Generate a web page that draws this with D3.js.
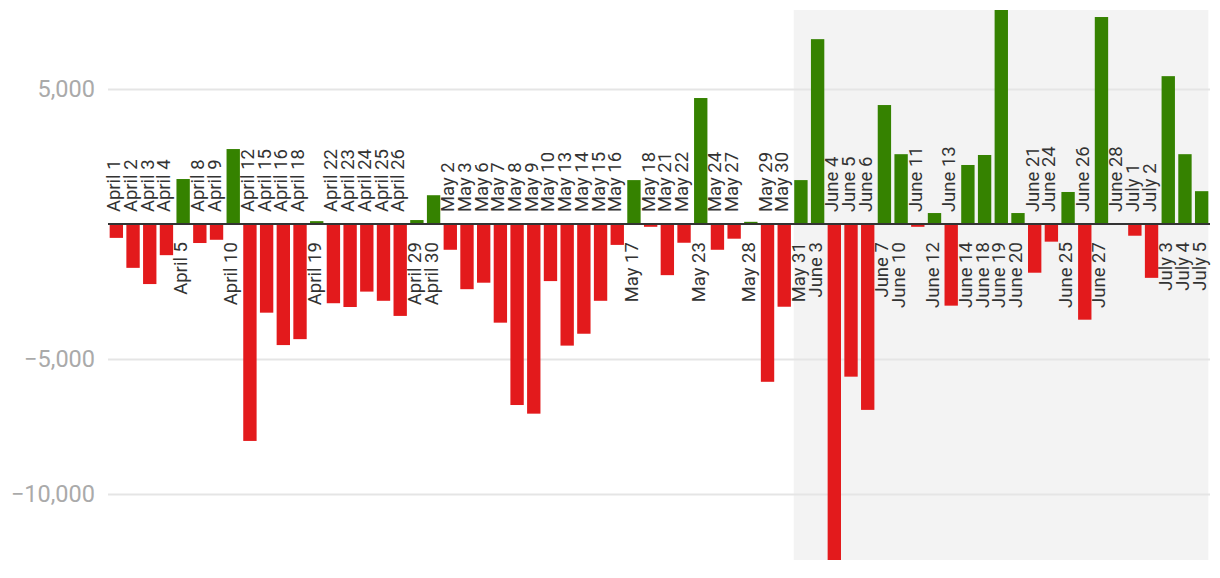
<!DOCTYPE html>
<html>
<head>
<meta charset="utf-8">
<script src="https://cdn.jsdelivr.net/npm/d3@7"></script>
<style>
  body { margin: 0; background: #fff; }
  svg { display: block; font-family: Roboto, "Noto Sans", sans-serif; }
</style>
</head>
<body>
<script>
// daily net change
var dates = ["April 1","April 2","April 3","April 4","April 5","April 8","April 9","April 10",
  "April 12","April 15","April 16","April 18","April 19","April 22","April 23","April 24",
  "April 25","April 26","April 29","April 30",
  "May 2","May 3","May 6","May 7","May 8","May 9","May 10","May 13","May 14","May 15",
  "May 16","May 17","May 18","May 21","May 22","May 23","May 24","May 27","May 28",
  "May 29","May 30","May 31",
  "June 3","June 4","June 5","June 6","June 7","June 10","June 11","June 12","June 13",
  "June 14","June 18","June 19","June 20","June 21","June 24","June 25","June 26",
  "June 27","June 28",
  "July 1","July 2","July 3","July 4","July 5"];

var values = [-510,-1620,-2220,-1150,1670,-700,-580,2780,
  -8030,-3280,-4480,-4260,110,-2930,-3070,-2500,
  -2840,-3400,150,1070,
  -950,-2410,-2170,-3650,-6700,-7020,-2110,-4500,-4060,-2840,
  -770,1630,-100,-1890,-690,4670,-950,-540,85,
  -5840,-3060,1630,
  6850,-12440,-5650,-6880,4410,2590,-100,410,-3020,
  2190,2560,7930,410,-1800,-650,1190,-3540,
  7670,-10,
  -430,-1990,5480,2590,1220];

var yTicks = [-10000, -5000, 5000];
var shadeFrom = "May 31", shadeTo = "July 5";

var width = 1220, height = 578;
var mLeft = 108, mRight = 1210, mTop = 10, mBottom = 560;

var svg = d3.select("body").append("svg")
    .attr("width", width)
    .attr("height", height);

var x = d3.scaleBand()
    .domain(dates)
    .range([mLeft, mRight])
    .paddingInner(0.2)
    .paddingOuter(0.1);

var y = d3.scaleLinear()
    .domain(d3.extent(values))
    .range([mBottom, mTop]);

// grey shaded period
svg.append("rect")
    .attr("x", x(shadeFrom) - 0.5)
    .attr("y", mTop)
    .attr("width", x(shadeTo) + x.bandwidth() - x(shadeFrom) + 0.5)
    .attr("height", mBottom - mTop)
    .attr("fill", "#f3f3f3");

// gridlines + tick labels
var yAxis = d3.axisLeft(y)
    .tickValues(yTicks)
    .tickFormat(d3.format(","))
    .tickSize(-(mRight - mLeft))
    .tickPadding(13);

svg.append("g")
    .attr("transform", "translate(" + mLeft + ",0)")
    .call(yAxis)
    .call(g => g.select(".domain").remove())
    .call(g => g.selectAll(".tick line").attr("stroke", "#e5e5e5").attr("stroke-width", 2))
    .call(g => g.selectAll(".tick text")
        .attr("fill", "#aaaaaa")
        .style("font-size", "23.5px")
        .style("font-family", "Roboto, sans-serif"));

var data = dates.map((d, i) => ({ date: d, value: values[i] }));

svg.append("g")
  .selectAll("rect")
  .data(data)
  .enter().append("rect")
    .attr("x", d => x(d.date))
    .attr("width", x.bandwidth())
    .attr("y", d => y(Math.max(0, d.value)))
    .attr("height", d => Math.abs(y(d.value) - y(0)))
    .attr("fill", d => d.value > 0 ? "#358200" : "#e31a1c");

// zero line
svg.append("line")
    .attr("x1", mLeft)
    .attr("x2", mRight)
    .attr("y1", y(0))
    .attr("y2", y(0))
    .attr("stroke", "#333")
    .attr("stroke-width", 2);

// date labels on the opposite side of each bar
svg.append("g")
  .selectAll("text")
  .data(data)
  .enter().append("text")
    .attr("transform", function(d) {
      var cx = x(d.date) + x.bandwidth() / 2 + 4;
      var ty = d.value > 0 ? y(0) + 18 : y(0) - 12;
      return "translate(" + cx + "," + ty + ") rotate(-90)";
    })
    .attr("text-anchor", d => d.value > 0 ? "end" : "start")
    .attr("fill", "#333")
    .style("font-size", "18.5px")
    .text(d => d.date);
</script>
</body>
</html>
